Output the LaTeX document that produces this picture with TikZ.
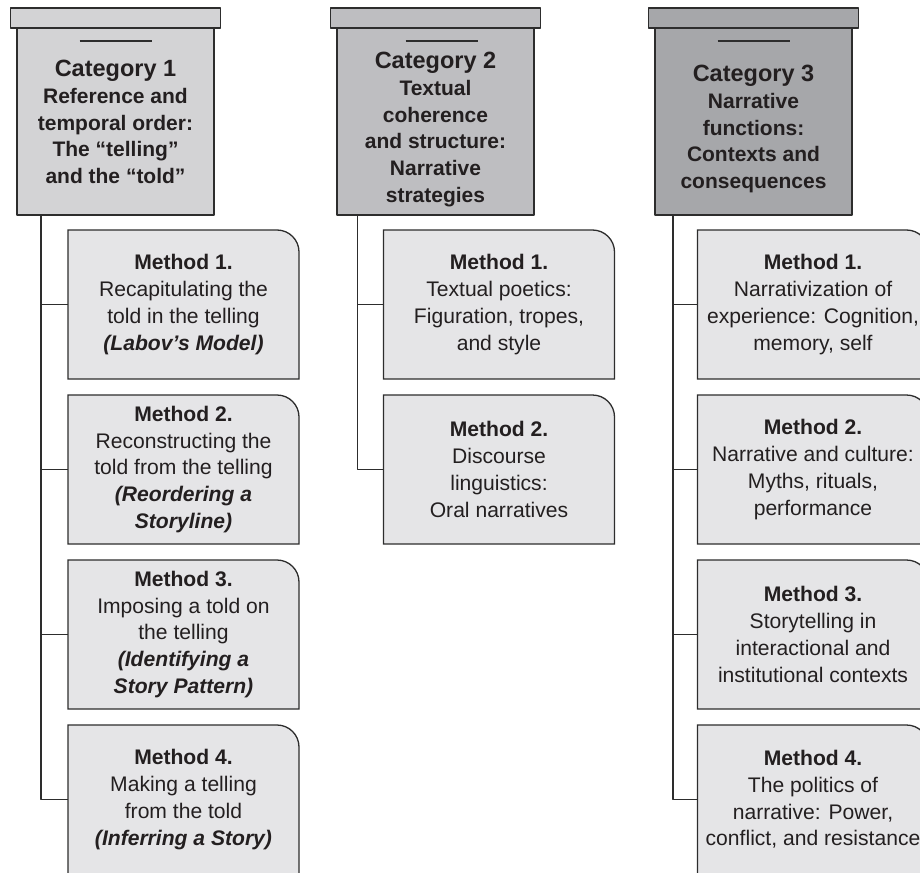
\documentclass[tikz,border=0pt]{standalone}
\usepackage{fontspec}
\setmainfont{Liberation Sans}
\usepackage{xcolor}
\definecolor{catone}{RGB}{211,211,213}
\definecolor{cattwo}{RGB}{190,190,193}
\definecolor{catthree}{RGB}{166,167,170}
\definecolor{methgray}{RGB}{229,229,231}
\definecolor{linegray}{RGB}{45,45,45}
\definecolor{inkgray}{RGB}{35,31,32}
\usetikzlibrary{positioning,backgrounds}

\tikzset{
  catbar/.style={draw=linegray, line width=1.3pt, minimum width=210pt, minimum height=20pt, inner sep=0pt, outer sep=0pt},
  catbody/.style={draw=linegray, line width=1.3pt, minimum width=197pt, minimum height=187pt, inner sep=0pt, outer sep=0pt},
  cattext/.style={align=center, inner sep=0pt, text=inkgray, font=\bfseries\fontsize{21}{26.7}\selectfont},
  methodbox/.style={minimum width=231pt, minimum height=149pt, inner sep=0pt, outer sep=0pt, align=center, text=inkgray, font=\fontsize{21.1}{26.7}\selectfont},
  methshape/.style={draw=linegray, fill=methgray, line width=1.3pt},
  branch/.style={draw=linegray, line width=1.2pt}
}
\newcommand{\cattitle}[1]{{\fontsize{23.5}{27}\selectfont #1}}
\newcommand{\methtitle}[1]{{\bfseries #1}}
\newcommand{\methnote}[1]{{\bfseries\itshape #1}}

\begin{document}
\begin{tikzpicture}[x=1pt, y=1pt, line join=round]
\useasboundingbox (0,0) rectangle (920,-872);

% category headers
\node[catbar, fill=catone] (c1bar) at (115.5,-18) {};
\node[catbody, fill=catone, below=0pt of c1bar] (c1body) {};
\node[catbar, fill=cattwo] (c2bar) at (435.5,-18) {};
\node[catbody, fill=cattwo, below=0pt of c2bar] (c2body) {};
\node[catbar, fill=catthree] (c3bar) at (753.5,-18) {};
\node[catbody, fill=catthree, below=0pt of c3bar] (c3body) {};

\draw[linegray, line width=1.3pt] ([yshift=-13pt]c1body.north) +(-36,0) -- +(36,0);
\draw[linegray, line width=1.3pt] ([xshift=6pt, yshift=-13pt]c2body.north) +(-36,0) -- +(36,0);
\draw[linegray, line width=1.3pt] ([yshift=-13pt]c3body.north) +(-36,0) -- +(36,0);

\node[cattext, anchor=north] (c1text) at ([yshift=-32pt]c1body.north) {\cattitle{Category 1}\\ Reference and\\ temporal order:\\ The “telling”\\ and the “told”};
\node[cattext, anchor=north] (c2text) at ([yshift=-24pt]c2body.north) {\cattitle{Category 2}\\ Textual\\ coherence\\ and structure:\\ Narrative\\ strategies};
\node[cattext, anchor=north] (c3text) at ([yshift=-37pt]c3body.north) {\cattitle{Category 3}\\ Narrative\\ functions:\\ Contexts and\\ consequences};

% methods, category 1
\node[methodbox] (m11) at (183.5,-304.5) {\methtitle{Method 1.}\\ Recapitulating the\\ told in the telling\\ \methnote{(Labov’s Model)}};
\node[methodbox, below=16pt of m11] (m12) {\methtitle{Method 2.}\\ Reconstructing the\\ told from the telling\\ \methnote{(Reordering a}\\ \methnote{Storyline)}};
\node[methodbox, below=16pt of m12] (m13) {\methtitle{Method 3.}\\ Imposing a told on\\ the telling\\ \methnote{(Identifying a}\\ \methnote{Story Pattern)}};
\node[methodbox, below=16pt of m13] (m14) {\methtitle{Method 4.}\\ Making a telling\\ from the told\\ \methnote{(Inferring a Story)}};

% methods, category 2
\node[methodbox] (m21) at (499,-304.5) {\methtitle{Method 1.}\\ Textual poetics:\\ Figuration, tropes,\\ and style};
\node[methodbox, below=16pt of m21] (m22) {\methtitle{Method 2.}\\ Discourse\\ linguistics:\\ Oral narratives};

% methods, category 3
\node[methodbox] (m31) at (813,-304.5) {\methtitle{Method 1.}\\ Narrativization of\\ experience: Cognition,\\ memory, self};
\node[methodbox, below=16pt of m31] (m32) {\methtitle{Method 2.}\\ Narrative and culture:\\ Myths, rituals,\\ performance};
\node[methodbox, below=16pt of m32] (m33) {\methtitle{Method 3.}\\ Storytelling in\\ interactional and\\ institutional contexts};
\node[methodbox, below=16pt of m33] (m34) {\methtitle{Method 4.}\\ The politics of\\ narrative: Power,\\ conflict, and resistance};

\begin{scope}[on background layer]
  \foreach \m in {m11,m12,m13,m14,m21,m22,m31,m32,m33,m34}
    \draw[methshape] (\m.south west) -- (\m.north west) -- ([xshift=-22pt]\m.north east)
      arc[start angle=90, end angle=0, radius=22pt] -- (\m.south east) -- cycle;
\end{scope}

% connectors
\coordinate (s1) at ([xshift=24pt]c1body.south west);
\coordinate (s2) at ([xshift=20.5pt]c2body.south west);
\coordinate (s3) at ([xshift=18pt]c3body.south west);
\foreach \k in {1,...,4} \draw[branch] (s1) |- (m1\k.west);
\foreach \k in {1,2} \draw[branch] (s2) |- (m2\k.west);
\foreach \k in {1,...,4} \draw[branch] (s3) |- (m3\k.west);
\end{tikzpicture}
\end{document}
